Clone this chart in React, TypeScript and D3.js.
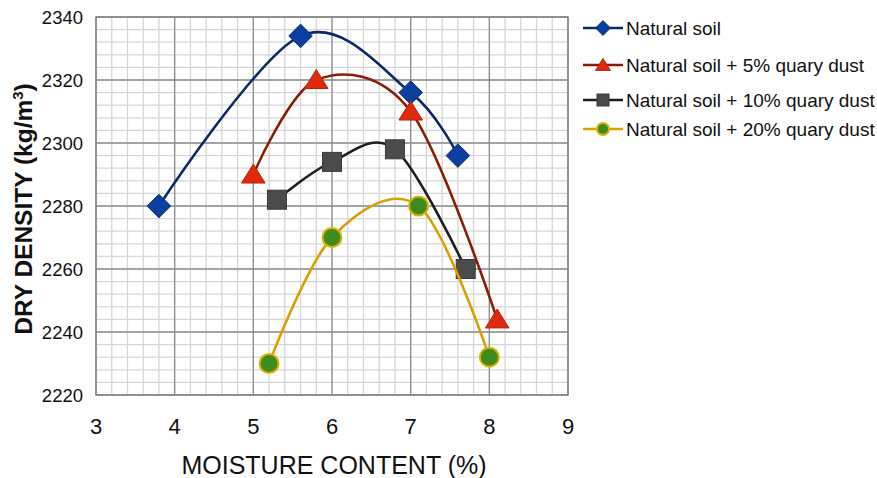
import * as d3 from 'd3';

const W = 877;
const H = 478;

const xTicks = [3, 4, 5, 6, 7, 8, 9];
const yTicks = [2220, 2240, 2260, 2280, 2300, 2320, 2340];

const seriesNames = [
  'Natural soil',
  'Natural soil + 5% quary dust',
  'Natural soil + 10% quary dust',
  'Natural soil + 20% quary dust',
];

const moistureNatural = [3.8, 5.6, 7.0, 7.6];
const densityNatural = [2280, 2334, 2316, 2296];

const moisture5 = [5.0, 5.8, 7.0, 8.1];
const density5 = [2290, 2320, 2310, 2244];

const moisture10 = [5.3, 6.0, 6.8, 7.7];
const density10 = [2282, 2294, 2298, 2260];

const moisture20 = [5.2, 6.0, 7.1, 8.0];
const density20 = [2230, 2270, 2280, 2232];

const styles = [
  { line: '#0c2a66', fill: '#0b3f9e', stroke: '#0a2f7a', shape: 'diamond' },
  { line: '#8a1c05', fill: '#e02a0c', stroke: '#b82208', shape: 'triangle' },
  { line: '#1e1e1e', fill: '#4b4b4d', stroke: '#3a3a3a', shape: 'square' },
  { line: '#d9a000', fill: '#3d8c1c', stroke: '#e0b000', shape: 'circle' },
];

const App = () => {
  const margin = { left: 96, right: 877 - 568, top: 17, bottom: 478 - 395 };
  const x = d3.scaleLinear().domain([3, 9]).range([margin.left, W - margin.right]);
  const y = d3.scaleLinear().domain([2220, 2340]).range([H - margin.bottom, margin.top]);

  const series = [
    { xs: moistureNatural, ys: densityNatural },
    { xs: moisture5, ys: density5 },
    { xs: moisture10, ys: density10 },
    { xs: moisture20, ys: density20 },
  ];

  const line = d3
    .line<[number, number]>()
    .x(d => x(d[0]))
    .y(d => y(d[1]))
    .curve(d3.curveCardinal.tension(0));

  // minor grid: 0.2 in x, 4 in y
  const minorX = d3.range(3, 9.0001, 0.2);
  const minorY = d3.range(2220, 2340.001, 4);

  const marker = (shape: string, cx: number, cy: number, s: any, size: number) => {
    if (shape === 'diamond') {
      const r = size * 0.62;
      return (
        <path
          d={`M${cx},${cy - r}L${cx + r},${cy}L${cx},${cy + r}L${cx - r},${cy}Z`}
          fill={s.fill}
          stroke={s.stroke}
          strokeWidth={1}
        />
      );
    }
    if (shape === 'triangle') {
      const h = size * 1.0;
      const w = size * 0.62;
      return (
        <path
          d={`M${cx},${cy - h * 0.55}L${cx + w},${cy + h * 0.45}L${cx - w},${cy + h * 0.45}Z`}
          fill={s.fill}
          stroke={s.stroke}
          strokeWidth={1}
        />
      );
    }
    if (shape === 'square') {
      const r = size * 0.5;
      return (
        <rect x={cx - r} y={cy - r} width={r * 2} height={r * 2} fill={s.fill} stroke={s.stroke} strokeWidth={1} />
      );
    }
    return <circle cx={cx} cy={cy} r={size * 0.5} fill={s.fill} stroke={s.stroke} strokeWidth={2} />;
  };

  const legendY = [28, 65, 100, 129];

  return (
    <svg
      width={W}
      height={H}
      style={{ position: 'fixed', left: 0, top: 0, background: '#fff', fontFamily: 'Liberation Sans, Arial, sans-serif' }}
    >
      <rect x={0} y={0} width={W} height={H} fill="#fff" />

      {/* minor grid */}
      <g stroke="#d6d6d6" strokeWidth={1.3}>
        {minorX.map((v, i) => (
          <line key={'mx' + i} x1={x(v)} x2={x(v)} y1={y(2220)} y2={y(2340)} />
        ))}
        {minorY.map((v, i) => (
          <line key={'my' + i} x1={x(3)} x2={x(9)} y1={y(v)} y2={y(v)} />
        ))}
      </g>

      {/* major grid */}
      <g stroke="#8f8f8f" strokeWidth={1.3}>
        {xTicks.map(v => (
          <line key={'X' + v} x1={x(v)} x2={x(v)} y1={y(2220)} y2={y(2340)} />
        ))}
        {yTicks.map(v => (
          <line key={'Y' + v} x1={x(3)} x2={x(9)} y1={y(v)} y2={y(v)} />
        ))}
      </g>
      <rect
        x={x(3)}
        y={y(2340)}
        width={x(9) - x(3)}
        height={y(2220) - y(2340)}
        fill="none"
        stroke="#8a8a8a"
        strokeWidth={1.5}
      />

      {/* tick labels */}
      {yTicks.map(v => (
        <text key={'yt' + v} x={83} y={y(v) + 6.5} textAnchor="end" fontSize={18.5} fill="#111">
          {v}
        </text>
      ))}
      {xTicks.map(v => (
        <text key={'xt' + v} x={x(v)} y={434} textAnchor="middle" fontSize={22} fill="#111">
          {v}
        </text>
      ))}

      {/* axis titles */}
      <text x={334} y={474} textAnchor="middle" fontSize={25} fill="#111">
        MOISTURE CONTENT (%)
      </text>
      <text
        transform={`translate(32,${209}) rotate(-90)`}
        textAnchor="middle"
        fontSize={24.5}
        fontWeight="bold"
        fill="#111"
      >
        DRY DENSITY (kg/m<tspan dy={-9} fontSize={15}>3</tspan>
        <tspan dy={9}>)</tspan>
      </text>

      {/* series */}
      {series.map((s, i) => {
        const pts = s.xs.map((v, j) => [v, s.ys[j]] as [number, number]);
        return (
          <g key={'s' + i}>
            <path d={line(pts) || ''} fill="none" stroke={styles[i].line} strokeWidth={2.6} />
            {pts.map((p, j) => (
              <g key={j}>{marker(styles[i].shape, x(p[0]), y(p[1]), styles[i], 19)}</g>
            ))}
          </g>
        );
      })}

      {/* legend */}
      {seriesNames.map((name, i) => (
        <g key={'lg' + i}>
          <line x1={583} x2={623} y1={legendY[i]} y2={legendY[i]} stroke={styles[i].line} strokeWidth={2.6} />
          {marker(styles[i].shape, 603, legendY[i], styles[i], 12)}
          <text x={626} y={legendY[i] + 6.5} fontSize={19} fill="#111">
            {name}
          </text>
        </g>
      ))}
    </svg>
  );
};

export default App;
